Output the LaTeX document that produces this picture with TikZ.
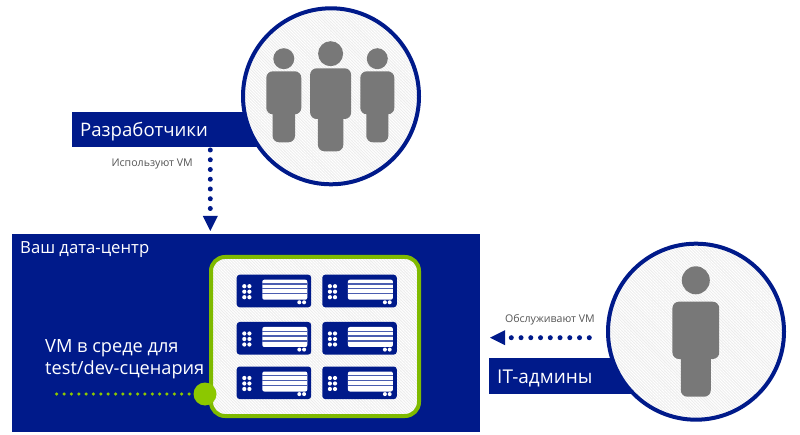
\documentclass[tikz,border=0pt]{standalone}
\usepackage{fontspec}
\setmainfont{Open Sans}
\usetikzlibrary{arrows.meta,patterns.meta}
\definecolor{navy}{HTML}{001A8A}
\definecolor{leaf}{HTML}{7FBA00}
\definecolor{leafdot}{HTML}{8CC800}
\definecolor{panelgrey}{HTML}{ECECEC}
\definecolor{figure}{HTML}{787878}
\definecolor{stripe}{HTML}{4A5DB0}
\definecolor{caption}{HTML}{555555}
\tikzset{
  block/.style={fill=navy,inner sep=0pt,outer sep=0pt},
  hatched/.style={preaction={fill=panelgrey},pattern={Lines[angle=-45,distance=2.1pt,line width=1pt]},pattern color=white},
  rolecircle/.style={circle,draw=navy,line width=4pt,hatched,minimum size=176pt,inner sep=0pt,outer sep=0pt},
  lighttext/.style={text=white,anchor=west,inner sep=0pt},
  smallcaption/.style={text=caption,font=\fontsize{10.6}{12}\selectfont,inner sep=0pt},
  bluedots/.style={draw=navy,line width=5pt,line cap=round,dash pattern=on 0pt off 9.75pt,
    -{Triangle[length=15pt,width=15pt,fill=navy,line width=0pt]}},
  greendots/.style={draw=leafdot,line width=3.5pt,line cap=round,dash pattern=on 0pt off 7.35pt},
  serverunit/.pic={
    \fill[navy,rounded corners=3pt] (0,0) rectangle (74.5,32.6);
    \foreach \dx in {7.6,12.7}\foreach \dy in {11.5,17,22.5}
      \fill[white] (\dx,\dy) circle (2.1pt);
    \fill[white,rounded corners=2pt] (25.6,5) rectangle (70.6,25);
    \foreach \sy in {9.3,14.1,19}
      \fill[stripe] (25.6,\sy-0.65) rectangle (70.6,\sy+0.65);
    \foreach \dx in {62.6,67.4}
      \fill[white] (\dx,27.6) circle (2pt);
  }
}
% a standing figure: centre x, head y, head radius, torso half width,
% torso top, torso bottom, leg half width, foot y
\newcommand{\standingfigure}[8]{
  \fill[figure] (#1,#2) circle (#3pt);
  \fill[figure,rounded corners=6.5pt] (#1-#4,#5) rectangle (#1+#4,#6);
  \fill[figure,rounded corners=6.5pt] (#1-#7,#6-12) rectangle (#1+#7,#8);
}
\begin{document}
\begin{tikzpicture}[x=1pt,y=-1pt]
\useasboundingbox (0,0) rectangle (800,435);
\fill[white] (0,0) rectangle (800,435);

% data centre block with its host frame
\node[block,minimum width=468pt,minimum height=197.5pt] (dc) at (246,332.75) {};
\node[lighttext,font=\fontsize{16.7}{19}\selectfont] (dctitle) at (20,250) {Ваш дата-центр};
\node[draw=leaf,line width=4pt,hatched,rounded corners=14pt,minimum width=208pt,minimum height=159pt,inner sep=0pt] (host) at (315,336.5) {};

% server units
\foreach \cx in {236.7,322.3}\foreach \cy in {274.7,322,366.5}
  \pic at (\cx,\cy) {serverunit};

% test/dev marker
\node[circle,fill=leafdot,minimum size=23pt,inner sep=0pt,outer sep=0pt] (hostdot) at (205,394) {};
\node[lighttext,font=\fontsize{18.2}{22}\selectfont,align=left] (vmlabel) at (45,359) {VM в среде для\\test/dev-сценария};
\coordinate (vmend) at (56.7,394);
\draw[greendots] (vmend) -- (hostdot.west);

% developers
\node[block,minimum width=188pt,minimum height=35pt] (devbanner) at (166,129.5) {};
\node[lighttext,font=\fontsize{18.6}{21}\selectfont] (devlabel) at (80,131.5) {Разработчики};
\node[rolecircle] (devcircle) at (331,96.3) {};
\standingfigure{283.8}{58.7}{10.5}{17.5}{71.3}{114.3}{11.2}{142.3}
\standingfigure{330.6}{53.7}{12.5}{20.5}{68.3}{119}{12.7}{151.3}
\standingfigure{377.3}{58.7}{10.5}{17}{71.3}{114.3}{11}{142.3}
\coordinate (devx) at (210.3,0);
\draw[bluedots,shorten <=3pt,shorten >=3pt] (devbanner.south -| devx) -- (dc.north -| devx);
\node[smallcaption,anchor=east] (devuse) at (193,164) {Используют VM};

% IT admins
\node[block,minimum width=150pt,minimum height=35.7pt] (itbanner) at (563.5,376.2) {};
\node[lighttext,font=\fontsize{19}{21}\selectfont] (itlabel) at (497,378) {IT-админы};
\node[rolecircle] (itcircle) at (696,331.7) {};
\standingfigure{695.8}{280.3}{14}{23.4}{301.7}{359}{15}{396.7}
\coordinate (itport) at (589.3,337.7);
\draw[bluedots,shorten >=10pt] (itport) -- (dc.east |- itport);
\node[smallcaption,anchor=east] (ituse) at (595,320) {Обслуживают VM};
\end{tikzpicture}
\end{document}
